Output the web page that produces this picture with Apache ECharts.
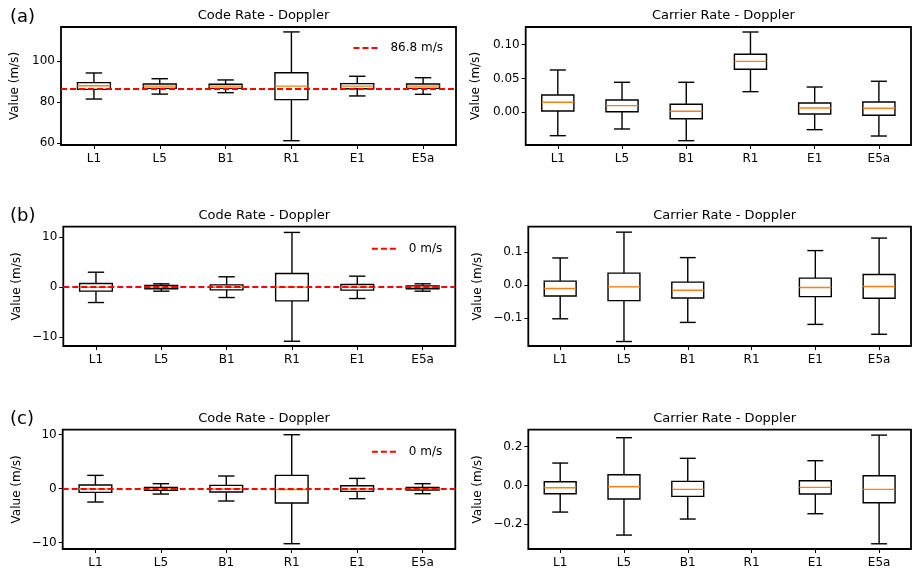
<!DOCTYPE html>
<html>
<head>
<meta charset="utf-8">
<script src="https://cdn.jsdelivr.net/npm/echarts@6/dist/echarts.min.js"></script>
<style>
  html, body { margin: 0; padding: 0; background: #fff; }
  #chart { width: 915px; height: 572px; }
</style>
</head>
<body>
<div id="chart"></div>
<script>
// Signal names on every x axis
const categories = ['L1', 'L5', 'B1', 'R1', 'E1', 'E5a'];

// Five-number summaries per signal: [low whisker, Q1, median, Q3, high whisker]
// null = no data for that signal
const codeRateA = [
  [81.6, 86.3, 88.1, 89.6, 94.3],
  [84.0, 86.8, 87.9, 88.9, 91.5],
  [84.7, 86.8, 87.9, 88.8, 90.9],
  [61.3, 81.3, 87.9, 94.4, 114.3],
  [83.1, 86.6, 87.9, 89.1, 92.7],
  [83.9, 86.8, 87.9, 88.9, 92.0]
];
const carrierRateA = [
  [-0.0346, 0.0019, 0.0148, 0.0256, 0.0626],
  [-0.0247, 0.0009, 0.0098, 0.0182, 0.0444],
  [-0.0420, -0.0095, 0.0015, 0.0118, 0.0444],
  [0.0305, 0.0636, 0.0754, 0.0858, 0.1188],
  [-0.0257, -0.0025, 0.0064, 0.0138, 0.0374],
  [-0.0351, -0.0044, 0.0059, 0.0152, 0.0459]
];
const codeRateB = [
  [-3.08, -0.80, -0.03, 0.74, 3.00],
  [-0.80, -0.33, 0.00, 0.33, 0.67],
  [-2.08, -0.54, -0.02, 0.47, 2.08],
  [-10.85, -2.75, 0.00, 2.75, 10.98],
  [-2.28, -0.60, -0.02, 0.54, 2.21],
  [-0.80, -0.33, 0.00, 0.27, 0.67]
];
const carrierRateB = [
  [-0.103, -0.0337, -0.0112, 0.0112, 0.0816],
  [-0.172, -0.0480, -0.0061, 0.0357, 0.160],
  [-0.114, -0.0398, -0.0163, 0.0082, 0.0827],
  null,
  [-0.120, -0.0357, -0.0082, 0.0204, 0.104],
  [-0.150, -0.0408, -0.0051, 0.0316, 0.142]
];
const codeRateC = [
  [-2.47, -0.68, -0.06, 0.68, 2.47],
  [-0.99, -0.31, -0.03, 0.25, 0.93],
  [-2.28, -0.62, -0.05, 0.62, 2.35],
  [-10.19, -2.65, -0.15, 2.47, 10.00],
  [-1.85, -0.49, -0.03, 0.56, 1.91],
  [-0.93, -0.25, -0.02, 0.25, 0.93]
];
const carrierRateC = [
  [-0.138, -0.0430, -0.0120, 0.0190, 0.1155],
  [-0.257, -0.0707, -0.0069, 0.0550, 0.2466],
  [-0.174, -0.0569, -0.0207, 0.0207, 0.140],
  null,
  [-0.1466, -0.0448, -0.0103, 0.0241, 0.1276],
  [-0.302, -0.0897, -0.0207, 0.0500, 0.260]
];

// Reference levels drawn as dashed red lines
const refLevels = [86.8, 0, 0];
const refNames = ['86.8 m/s', '0 m/s', '0 m/s'];

// Y-axis ranges and tick values per panel
const yRanges = [
  [59.2, 116.7], [-0.0484, 0.1262],
  [-11.8, 12.13], [-0.1856, 0.1765],
  [-11.17, 10.93], [-0.329, 0.288]
];
const yTicks = [
  [60, 80, 100], [0.00, 0.05, 0.10],
  [-10, 0, 10], [-0.1, 0.0, 0.1],
  [-10, 0, 10], [-0.2, 0.0, 0.2]
];
const yDecimals = [0, 2, 0, 1, 0, 1];

const rowLabels = ['(a)', '(b)', '(c)'];
const panelTitles = ['Code Rate - Doppler', 'Carrier Rate - Doppler'];
const panelData = [codeRateA, carrierRateA, codeRateB, carrierRateB, codeRateC, carrierRateC];

// Plot rectangles [left, top, right, bottom] in px
const gridBoxes = [
  [61, 27, 456, 145], [525.7, 27, 911, 145],
  [63.3, 226.7, 455.3, 346], [528.3, 226.7, 911, 346],
  [62.7, 429.7, 455.3, 549], [528.3, 429.7, 911, 549]
];

const FONT = 'DejaVu Sans';
const W = 915, H = 572;

function fmtTick(v, d) {
  return v.toFixed(d).replace('-', '\u2212');
}

function renderBox(params, api) {
  const xi = api.value(0);
  const pt = (k) => api.coord([xi, api.value(k)]);
  const band = api.size([1, 0])[0];
  const hw = band * 0.25, cw = band * 0.125;
  const low = pt(1), q1 = pt(2), med = pt(3), q3 = pt(4), high = pt(5);
  const cx = low[0];
  const ls = { stroke: '#000', lineWidth: 1.4 };
  return {
    type: 'group',
    children: [
      { type: 'line', shape: { x1: cx, y1: q3[1], x2: cx, y2: high[1] }, style: ls },
      { type: 'line', shape: { x1: cx, y1: q1[1], x2: cx, y2: low[1] }, style: ls },
      { type: 'line', shape: { x1: cx - cw, y1: high[1], x2: cx + cw, y2: high[1] }, style: ls },
      { type: 'line', shape: { x1: cx - cw, y1: low[1], x2: cx + cw, y2: low[1] }, style: ls },
      { type: 'rect', shape: { x: cx - hw, y: q3[1], width: 2 * hw, height: q1[1] - q3[1] },
        style: { fill: '#fff', stroke: '#000', lineWidth: 1.4 } },
      { type: 'line', shape: { x1: cx - hw, y1: med[1], x2: cx + hw, y2: med[1] },
        style: { stroke: '#ff7f0e', lineWidth: 1.4 } }
    ]
  };
}

const grid = [], xAxis = [], yAxis = [], series = [], title = [], legend = [];

gridBoxes.forEach((b, i) => {
  grid.push({
    left: b[0], top: b[1], width: b[2] - b[0], height: b[3] - b[1],
    show: true, borderColor: '#000', borderWidth: 1.8, backgroundColor: 'transparent'
  });
  xAxis.push({
    type: 'category', gridIndex: i, data: categories, boundaryGap: true, position: 'bottom',
    axisLine: { show: false, onZero: false },
    axisTick: { show: true, alignWithLabel: true, length: 4, lineStyle: { color: '#000', width: 1 } },
    axisLabel: { color: '#000', fontFamily: FONT, fontSize: 12, margin: 8, interval: 0 },
    splitLine: { show: false }
  });
  yAxis.push({
    type: 'value', gridIndex: i, min: yRanges[i][0], max: yRanges[i][1],
    name: 'Value (m/s)', nameLocation: 'middle', nameGap: i % 2 === 0 ? 40 : 44,
    nameTextStyle: { color: '#000', fontFamily: FONT, fontSize: 12 },
    axisLine: { show: false, onZero: false },
    axisTick: { show: true, length: 4, customValues: yTicks[i], lineStyle: { color: '#000', width: 1 } },
    axisLabel: { color: '#000', fontFamily: FONT, fontSize: 12, margin: 6,
      customValues: yTicks[i], formatter: (v) => fmtTick(v, yDecimals[i]) },
    splitLine: { show: false }
  });
  const items = [];
  panelData[i].forEach((s, k) => { if (s) items.push([k].concat(s)); });
  series.push({
    type: 'custom', xAxisIndex: i, yAxisIndex: i, renderItem: renderBox,
    encode: { x: 0, y: [1, 2, 3, 4, 5] }, data: items, z: 2, silent: true
  });
  title.push({
    text: panelTitles[i % 2],
    left: (b[0] + b[2]) / 2, top: b[1] - 23, textAlign: 'center',
    textStyle: { fontFamily: FONT, fontSize: 13, fontWeight: 'normal', color: '#000' }
  });
});

// Dashed reference lines on the code-rate panels, with legends
refLevels.forEach((lvl, r) => {
  const gi = r * 2;
  const b = gridBoxes[gi];
  series.push({
    type: 'line', name: refNames[r], xAxisIndex: gi, yAxisIndex: gi,
    data: [], symbol: 'none', showSymbol: false, z: 5,
    lineStyle: { color: '#ff0000', type: [6, 3], width: 2 },
    itemStyle: { color: '#ff0000', opacity: 0 },
    markLine: {
      silent: true, symbol: 'none', label: { show: false },
      lineStyle: { color: '#ff0000', type: [6, 3], width: 2, opacity: 1 },
      data: [{ yAxis: lvl }]
    }
  });
  legend.push({
    data: [refNames[r]], right: W - b[2] + 8, top: b[1] + (r === 0 ? 10 : 11),
    itemWidth: 26, itemHeight: 12,
    itemStyle: { opacity: 0, borderWidth: 0 },
    lineStyle: { color: '#ff0000', type: [6, 3], width: 2 },
    textStyle: { fontFamily: FONT, fontSize: 12, color: '#000', padding: [0, 0, 0, 6] },
    selectedMode: false
  });
});

// Row labels (a), (b), (c)
rowLabels.forEach((t, r) => {
  title.push({
    text: t, left: 5, top: gridBoxes[r * 2][1] - 24,
    textStyle: { fontFamily: FONT, fontSize: 18, fontWeight: 'normal', color: '#000' }
  });
});

const chart = echarts.init(document.getElementById('chart'), null, { renderer: 'canvas' });
chart.setOption({
  backgroundColor: '#fff',
  animation: false,
  title, legend, grid, xAxis, yAxis, series
});
</script>
</body>
</html>
